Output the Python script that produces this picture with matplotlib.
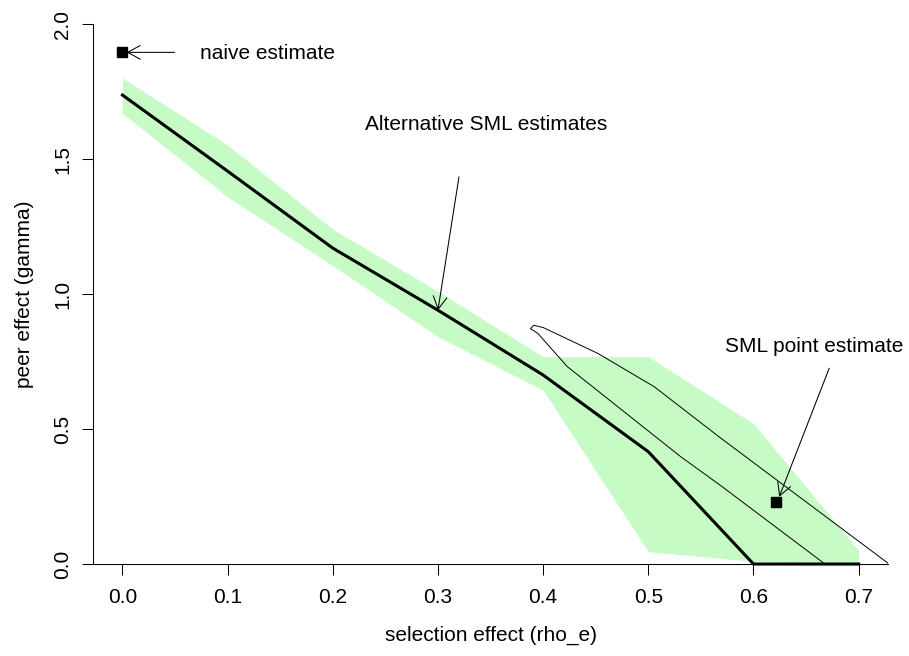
import numpy as np
import matplotlib
matplotlib.use('Agg')
import matplotlib.pyplot as plt

plt.rcParams['font.family'] = ['Liberation Sans', 'DejaVu Sans']

# дані
rho = [0.0, 0.1, 0.2, 0.3, 0.4, 0.5, 0.6, 0.7]
gamma_alt = [1.737, 1.455, 1.17, 0.94, 0.70, 0.416, 0.0, 0.0]
band_upper = [1.80, 1.552, 1.24, 1.01, 0.768, 0.768, 0.52, 0.05]
band_lower = [1.67, 1.36, 1.105, 0.842, 0.644, 0.046, 0.01, 0.0]

# контур довірчої області (обрізаний знизу)
contour_x = [0.668, 0.569, 0.531, 0.487, 0.423, 0.395, 0.388, 0.391, 0.400, 0.452, 0.5055, 0.569, 0.729]
contour_y = [0.0, 0.29, 0.397, 0.533, 0.731, 0.854, 0.872, 0.884, 0.876, 0.78, 0.657, 0.466, 0.0]

naive_est = (0.0, 1.895)
sml_est = (0.621, 0.228)

x_ticks = [0.0, 0.1, 0.2, 0.3, 0.4, 0.5, 0.6, 0.7]
x_labels = ['0.0', '0.1', '0.2', '0.3', '0.4', '0.5', '0.6', '0.7']
y_ticks = [0.0, 0.5, 1.0, 1.5, 2.0]
y_labels = ['0.0', '0.5', '1.0', '1.5', '2.0']

fig = plt.figure(figsize=(9.09, 6.56), dpi=100)
ax = fig.add_axes([0.1023, 0.1402, 0.8747, 0.8232])

ax.fill_between(rho, band_lower, band_upper, color='#c6fbc6', linewidth=0)
ax.plot(rho, gamma_alt, color='black', linewidth=2.2, clip_on=False, zorder=3)
ax.plot(contour_x, contour_y, color='black', linewidth=0.7, zorder=3)
ax.plot(*naive_est, marker='s', color='black', markersize=7, zorder=4)
ax.plot(*sml_est, marker='s', color='black', markersize=7, zorder=4)

arrow = dict(arrowstyle='->,head_length=0.6,head_width=0.33', color='black',
             lw=0.75, shrinkA=0, shrinkB=0, mutation_scale=15)
ax.annotate('', xy=(0.004, 1.895), xytext=(0.0495, 1.895), arrowprops=arrow)
ax.annotate('', xy=(0.300, 0.94), xytext=(0.320, 1.434), arrowprops=arrow)
ax.annotate('', xy=(0.6245, 0.249), xytext=(0.672, 0.725), arrowprops=arrow)

ax.text(0.138, 1.889, 'naive estimate', fontsize=15, ha='center', va='center')
ax.text(0.346, 1.626, 'Alternative SML estimates', fontsize=15, ha='center', va='center')
ax.text(0.658, 0.805, 'SML point estimate', fontsize=15, ha='center', va='center')

ax.set_xlim(-0.028, 0.728)
ax.set_ylim(0, 2.0)
ax.set_xticks(x_ticks)
ax.set_xticklabels(x_labels)
ax.set_yticks(y_ticks)
ax.set_yticklabels(y_labels, rotation=90, va='center')
ax.tick_params(axis='both', length=8, width=0.75, labelsize=15, color='black')
ax.tick_params(axis='x', pad=9)
ax.tick_params(axis='y', pad=7)

ax.spines['top'].set_visible(False)
ax.spines['right'].set_visible(False)
ax.spines['left'].set_linewidth(0.75)
ax.spines['bottom'].set_linewidth(0.75)

ax.set_xlabel('selection effect (rho_e)', fontsize=15, labelpad=14)
ax.set_ylabel('peer effect (gamma)', fontsize=15, labelpad=14)

fig.savefig('out.png', dpi=100)
